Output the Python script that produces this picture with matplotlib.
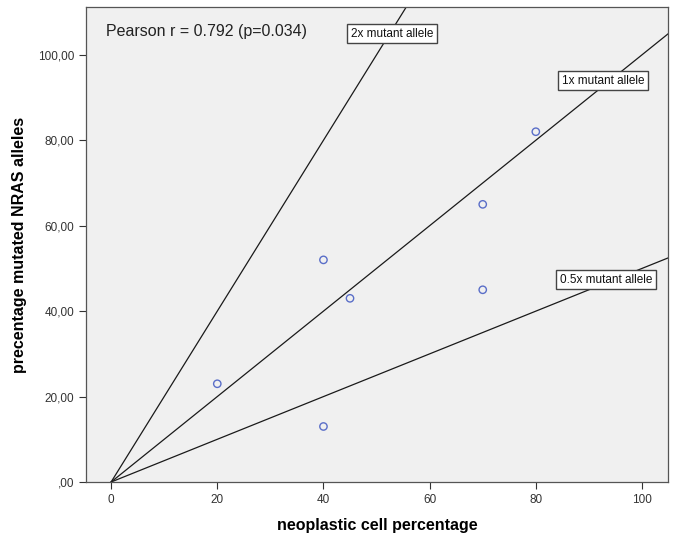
import matplotlib
matplotlib.use('Agg')
import matplotlib.pyplot as plt
from matplotlib.ticker import FuncFormatter

plt.rcParams['font.family'] = ['Liberation Sans', 'DejaVu Sans']

# --- DATA ---
neoplastic_pct = [20, 40, 40, 45, 70, 70, 80]
mutated_pct = [23, 52, 13, 43, 65, 45, 82]

line_slopes = [2.0, 1.0, 0.5]
line_labels = ['2x mutant allele', '1x mutant allele', '0.5x mutant allele']
label_pos = [(52.9, 104.9), (92.7, 93.9), (93.2, 47.3)]

x_ticks = [0, 20, 40, 60, 80, 100]
y_ticks = [0, 20, 40, 60, 80, 100]

pearson_text = 'Pearson r = 0.792 (p=0.034)'

# --- PLOT ---
fig = plt.figure(figsize=(6.73, 5.36), dpi=100)
ax = fig.add_axes([0.128, 0.1007, 0.8646, 0.8863])
ax.set_facecolor('#f0f0f0')

xmin, xmax = -4.7, 104.9
ymin, ymax = 0, 111.2

for slope in line_slopes:
    ax.plot([0, xmax], [0, slope * xmax], color='#1a1a1a', lw=0.9, zorder=2)

ax.scatter(neoplastic_pct, mutated_pct, s=28, facecolors='none',
           edgecolors='#5a6ec8', linewidths=1.0, zorder=3)

for txt, (lx, ly) in zip(line_labels, label_pos):
    ax.text(lx, ly, txt, ha='center', va='center', fontsize=8.5, color='#111111',
            bbox=dict(boxstyle='square,pad=0.3', fc='white', ec='#444444', lw=1.0),
            zorder=4)

ax.text(-0.9, 105.4, pearson_text, ha='left', va='center', fontsize=11.5, color='#222222')

ax.set_xlim(xmin, xmax)
ax.set_ylim(ymin, ymax)
ax.set_xticks(x_ticks)
ax.set_yticks(y_ticks)
ax.yaxis.set_major_formatter(FuncFormatter(lambda v, p: (',00' if v == 0 else f'{int(v)},00')))

ax.tick_params(direction='out', length=5, width=0.8, labelsize=8.5, colors='#333333')
for sp in ax.spines.values():
    sp.set_color('#555555')
    sp.set_linewidth(0.9)

ax.set_xlabel('neoplastic cell percentage', fontsize=11.5, fontweight='bold', labelpad=9)
ax.set_ylabel('precentage mutated NRAS alleles', fontsize=11.5, fontweight='bold', labelpad=8)

plt.savefig('out.png', dpi=100)
plt.close()
